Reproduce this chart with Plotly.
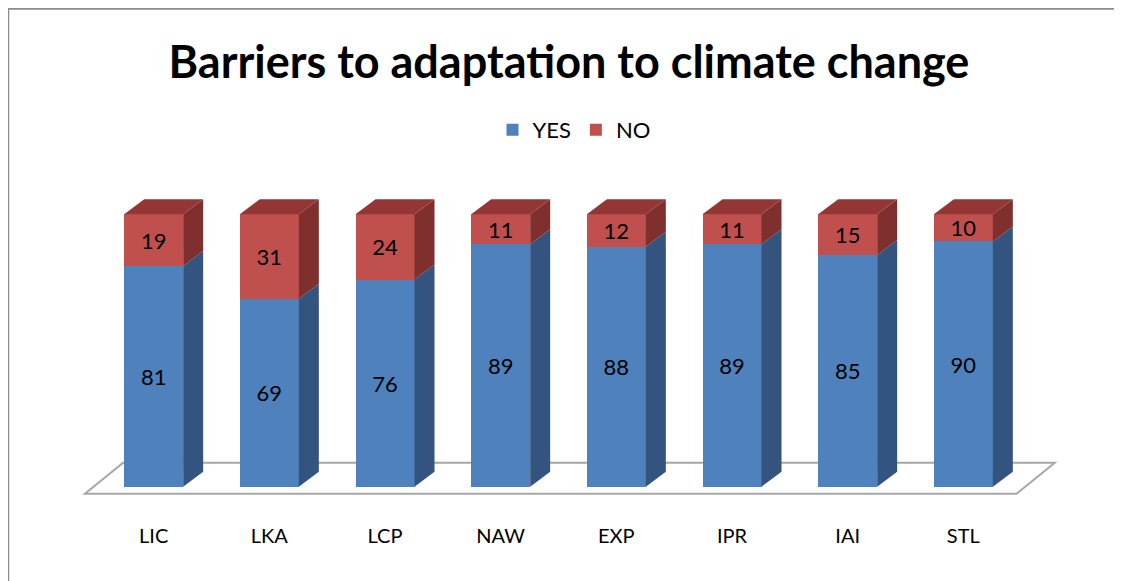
import plotly.graph_objects as go

categories = ["LIC", "LKA", "LCP", "NAW", "EXP", "IPR", "IAI", "STL"]
yes_values = [81, 69, 76, 89, 88, 89, 85, 90]
no_values = [19, 31, 24, 11, 12, 11, 15, 10]

# page body adds an 8px offset; figure is sized to fill the rest of the window
OFF = 8
W, H = 1122 - OFF, 581 - OFF
ML, MR, MT, MB = 38 - OFF, 43, 146 - OFF, 67
XR = [-1, 8]
YR = [-10, 125]

BAR_W = 0.51
DX = 0.173   # depth offset in x units
DY = 5.5     # depth offset in y units

BLUE, BLUE_SIDE = "#4F81BD", "#33547F"
RED, RED_SIDE, RED_TOP = "#C0504D", "#7F2F2D", "#943634"

xs = list(range(len(categories)))

fig = go.Figure()
for name, vals, col in [("YES", yes_values, BLUE), ("NO", no_values, RED)]:
    fig.add_trace(go.Bar(x=xs, y=vals, name=name, marker=dict(color=col, line=dict(width=0)),
                         width=BAR_W, texttemplate="%{y}", textposition="inside",
                         insidetextanchor="middle", textangle=0, constraintext="none",
                         textfont=dict(color="black", size=22, family="Lato")))

shapes = []
# floor
fl, fr = -0.594, 7.46
fdx, fdy_front, fdy_back = 0.33, -2.6, 8.8
shapes.append(dict(type="path", xref="x", yref="y", layer="below",
                   path=f"M {fl},{fdy_front} L {fl+fdx},{fdy_back} L {fr+fdx},{fdy_back} L {fr},{fdy_front} Z",
                   line=dict(color="#A6A6A6", width=2), fillcolor="white"))

for x, yv, nv in zip(xs, yes_values, no_values):
    xr = x + BAR_W / 2
    xl = x - BAR_W / 2
    for (y0, y1, col) in [(0, yv, BLUE_SIDE), (yv, yv + nv, RED_SIDE)]:
        shapes.append(dict(type="path", xref="x", yref="y", layer="above",
                           path=f"M {xr},{y0} L {xr+DX},{y0+DY} L {xr+DX},{y1+DY} L {xr},{y1} Z",
                           line=dict(width=0), fillcolor=col))
    t = yv + nv
    shapes.append(dict(type="path", xref="x", yref="y", layer="above",
                       path=f"M {xl},{t} L {xl+DX},{t+DY} L {xr+DX},{t+DY} L {xr},{t} Z",
                       line=dict(width=0), fillcolor=RED_TOP))

# outer frame (top and left edges)
pw, ph = W - ML - MR, H - MT - MB
def px2x(px): return (px - ML) / pw
def py2y(py): return 1 - (py - MT) / ph
shapes.append(dict(type="line", xref="paper", yref="paper", x0=px2x(0), x1=px2x(W),
                   y0=py2y(0.5), y1=py2y(0.5), line=dict(color="#8C8C8C", width=2.5)))
shapes.append(dict(type="line", xref="paper", yref="paper", x0=px2x(0), x1=px2x(0),
                   y0=py2y(0), y1=py2y(H), line=dict(color="#8C8C8C", width=2.5)))

fig.update_layout(
    width=W, height=H,
    margin=dict(l=ML, r=MR, t=MT, b=MB, autoexpand=False),
    barmode="stack", bargap=0.49,
    paper_bgcolor="white", plot_bgcolor="white",
    font=dict(family="Lato", color="black"),
    title=dict(text="<b>Barriers to adaptation to climate change</b>",
               x=(569 - OFF) / W, xanchor="center", xref="container",
               y=1 - (62 - OFF) / H, yanchor="middle", yref="container",
               font=dict(size=45, family="Lato", color="black")),
    legend=dict(orientation="h", x=(574 - OFF) / W, xanchor="center", xref="container",
                y=1 - (130 - OFF) / H, yanchor="middle", yref="container",
                font=dict(size=22, family="Lato"), traceorder="normal",
                itemwidth=30, bgcolor="rgba(0,0,0,0)"),
    xaxis=dict(range=XR, tickmode="array", tickvals=xs, ticktext=categories,
               showgrid=False, zeroline=False, showline=False, ticks="",
               tickfont=dict(size=20, family="Lato"), ticklabelstandoff=8),
    yaxis=dict(range=YR, visible=False, showgrid=False, zeroline=False),
    shapes=shapes,
    showlegend=True,
)

fig.write_html("out.html")
